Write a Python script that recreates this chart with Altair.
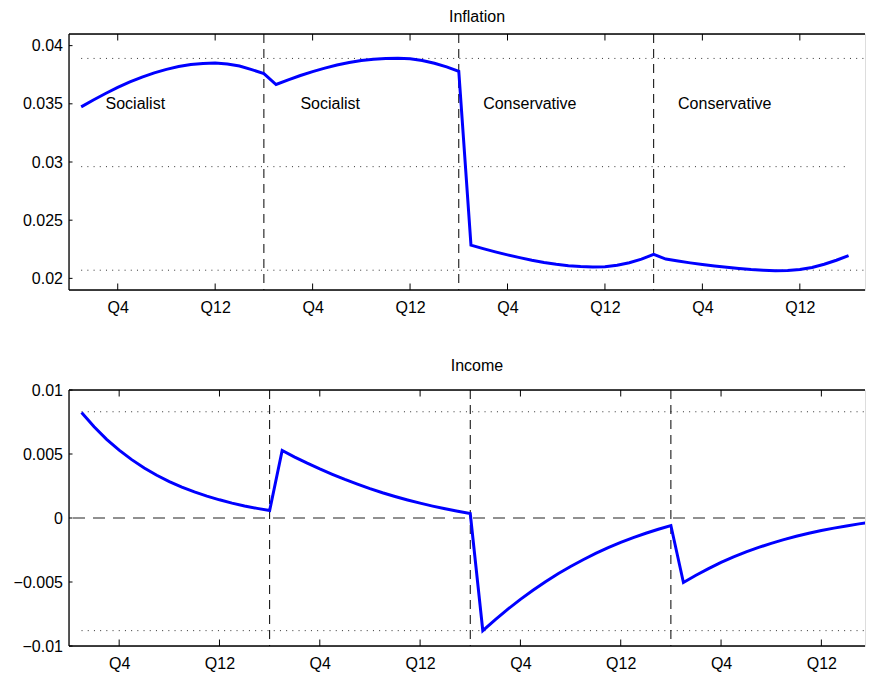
import altair as alt
import pandas as pd

FONT = "Liberation Sans"

quarters = list(range(1, 65))

inflation = [
    0.03474, 0.03533, 0.03589, 0.03641, 0.03688, 0.03730, 0.03766, 0.03796,
    0.03820, 0.03837, 0.03847, 0.03850, 0.03842, 0.03825, 0.03794, 0.03760,
    0.03666, 0.03706, 0.03743, 0.03777, 0.03807, 0.03833, 0.03855, 0.03872,
    0.03884, 0.03890, 0.03892, 0.03887, 0.03873, 0.03849, 0.03817, 0.03780,
    0.02286, 0.02256, 0.02228, 0.02202, 0.02178, 0.02156, 0.02137, 0.02121,
    0.02109, 0.02101, 0.02097, 0.02100, 0.02112, 0.02134, 0.02165, 0.02206,
    0.02166, 0.02149, 0.02133, 0.02119, 0.02106, 0.02095, 0.02085, 0.02076,
    0.02070, 0.02066, 0.02068, 0.02077, 0.02094, 0.02121, 0.02156, 0.02195,
]

income = [
    0.00824, 0.00713, 0.00615, 0.00530, 0.00456, 0.00391, 0.00334, 0.00285,
    0.00242, 0.00204, 0.00171, 0.00142, 0.00116, 0.00094, 0.00075, 0.00058,
    0.00527, 0.00476, 0.00428, 0.00383, 0.00341, 0.00301, 0.00264, 0.00229,
    0.00197, 0.00168, 0.00141, 0.00116, 0.00093, 0.00072, 0.00053, 0.00035,
    -0.00880, -0.00794, -0.00712, -0.00636, -0.00565, -0.00498, -0.00436, -0.00379,
    -0.00326, -0.00277, -0.00232, -0.00191, -0.00153, -0.00119, -0.00088, -0.00059,
    -0.00504, -0.00447, -0.00395, -0.00347, -0.00304, -0.00265, -0.00230, -0.00198,
    -0.00169, -0.00143, -0.00119, -0.00098, -0.00079, -0.00062, -0.00046, -0.00030,
]

regime_bounds = [16, 32, 48]
regime_labels = ["Socialist", "Socialist", "Conservative", "Conservative"]
regime_label_x = [3, 19, 34, 50]
regime_label_y = [0.035, 0.035, 0.035, 0.035]

xtick_pos = [4, 12, 20, 28, 36, 44, 52, 60]
xtick_text = ["Q4", "Q12", "Q4", "Q12", "Q4", "Q12", "Q4", "Q12"]

infl_yticks = [0.02, 0.025, 0.03, 0.035, 0.04]
inc_yticks = [-0.01, -0.005, 0, 0.005, 0.01]

infl_dotted_full = [0.0389, 0.0207]
infl_dotted_mid = [0.0296]
inc_dotted_full = [0.0083, -0.0088]

W = 796
H = 256

label_expr = " : ".join(
    f"datum.value == {p} ? '{t}'" for p, t in zip(xtick_pos, xtick_text)
) + " : ''"


def panel(title, values, xdomain, ydomain, yticks, dotted_full, dotted_mid, zero_line, with_text):
    xs = alt.Scale(domain=xdomain, nice=False, zero=False)
    ys = alt.Scale(domain=ydomain, nice=False, zero=False)
    xaxis = alt.Axis(values=xtick_pos, labelExpr=label_expr, ticks=False, domain=False,
                     grid=False, labelPadding=9, labelFontSize=16, labelFont=FONT,
                     labelColor="black", title=None, labelFlush=False)
    yaxis = alt.Axis(values=yticks, format="~g", ticks=False, domain=False, grid=False,
                     labelPadding=6.5, labelFontSize=16, labelFont=FONT,
                     labelColor="black", title=None)

    df = pd.DataFrame({"q": quarters, "v": values})
    one = pd.DataFrame({"a": [0]})

    layers = []
    # dotted reference lines
    dfd = pd.DataFrame({"v": dotted_full, "q": [quarters[0]] * len(dotted_full)})
    layers.append(alt.Chart(dfd).mark_rule(color="#333333", strokeWidth=1, strokeDash=[1, 5.2]).encode(
        x=alt.X("q:Q", scale=xs, axis=xaxis), x2=alt.value(W),
        y=alt.Y("v:Q", scale=ys, axis=yaxis)))
    if dotted_mid:
        dfm = pd.DataFrame({"v": dotted_mid, "q": [quarters[0]], "q2": [quarters[-1]]})
        layers.append(alt.Chart(dfm).mark_rule(color="#333333", strokeWidth=1, strokeDash=[1, 5.2]).encode(
            x=alt.X("q:Q", scale=xs, axis=xaxis), x2="q2:Q",
            y=alt.Y("v:Q", scale=ys, axis=yaxis)))
    if zero_line:
        dfz = pd.DataFrame({"v": [0]})
        layers.append(alt.Chart(dfz).mark_rule(color="#222222", strokeWidth=1, strokeDash=[12, 8]).encode(
            y=alt.Y("v:Q", scale=ys, axis=yaxis)))
    # regime boundaries
    dfb = pd.DataFrame({"q": regime_bounds})
    layers.append(alt.Chart(dfb).mark_rule(color="black", strokeWidth=1, strokeDash=[9, 6]).encode(
        x=alt.X("q:Q", scale=xs, axis=xaxis)))
    # series line
    layers.append(alt.Chart(df).mark_line(color="#0000FF", strokeWidth=3, clip=True).encode(
        x=alt.X("q:Q", scale=xs, axis=xaxis),
        y=alt.Y("v:Q", scale=ys, axis=yaxis)))
    if with_text:
        dft = pd.DataFrame({"q": regime_label_x, "v": regime_label_y, "t": regime_labels})
        layers.append(alt.Chart(dft).mark_text(align="left", baseline="middle", font=FONT,
                                               fontSize=16, color="black").encode(
            x=alt.X("q:Q", scale=xs, axis=xaxis),
            y=alt.Y("v:Q", scale=ys, axis=yaxis), text="t:N"))
    # inward ticks
    dfx = pd.DataFrame({"q": xtick_pos})
    layers.append(alt.Chart(dfx).mark_rule(color="black", strokeWidth=1).encode(
        x=alt.X("q:Q", scale=xs, axis=xaxis), y=alt.value(H), y2=alt.value(H - 6.5)))
    layers.append(alt.Chart(dfx).mark_rule(color="black", strokeWidth=1).encode(
        x=alt.X("q:Q", scale=xs, axis=xaxis), y=alt.value(0), y2=alt.value(6.5)))
    dfy = pd.DataFrame({"v": yticks})
    layers.append(alt.Chart(dfy).mark_rule(color="black", strokeWidth=1).encode(
        y=alt.Y("v:Q", scale=ys, axis=yaxis), x=alt.value(0), x2=alt.value(3.5)))
    # frame (left, top, bottom)
    layers.append(alt.Chart(one).mark_rule(color="black", strokeWidth=1.3).encode(
        x=alt.value(0), y=alt.value(0), y2=alt.value(H)))
    layers.append(alt.Chart(one).mark_rule(color="black", strokeWidth=1.3).encode(
        x=alt.value(0), x2=alt.value(W), y=alt.value(0)))
    layers.append(alt.Chart(one).mark_rule(color="black", strokeWidth=1.3).encode(
        x=alt.value(0), x2=alt.value(W), y=alt.value(H)))

    return alt.layer(*layers).properties(
        width=W, height=H,
        title=alt.TitleParams(title, fontSize=16, font=FONT, fontWeight="normal",
                              color="black", dx=10, offset=8.3))


top = panel("Inflation", inflation, [0, 65.35], [0.019, 0.041], infl_yticks,
            infl_dotted_full, infl_dotted_mid, False, True)
bottom = panel("Income", income, [0, 63.48], [-0.01, 0.01], inc_yticks,
               inc_dotted_full, None, True, False)

chart = alt.vconcat(top, bottom, spacing=41).properties(
    padding={"left": 4, "top": 0, "right": 0, "bottom": 0}
).configure_view(stroke=None).configure(font=FONT)

chart.save("out.html", embed_options={"renderer": "svg", "actions": False})
